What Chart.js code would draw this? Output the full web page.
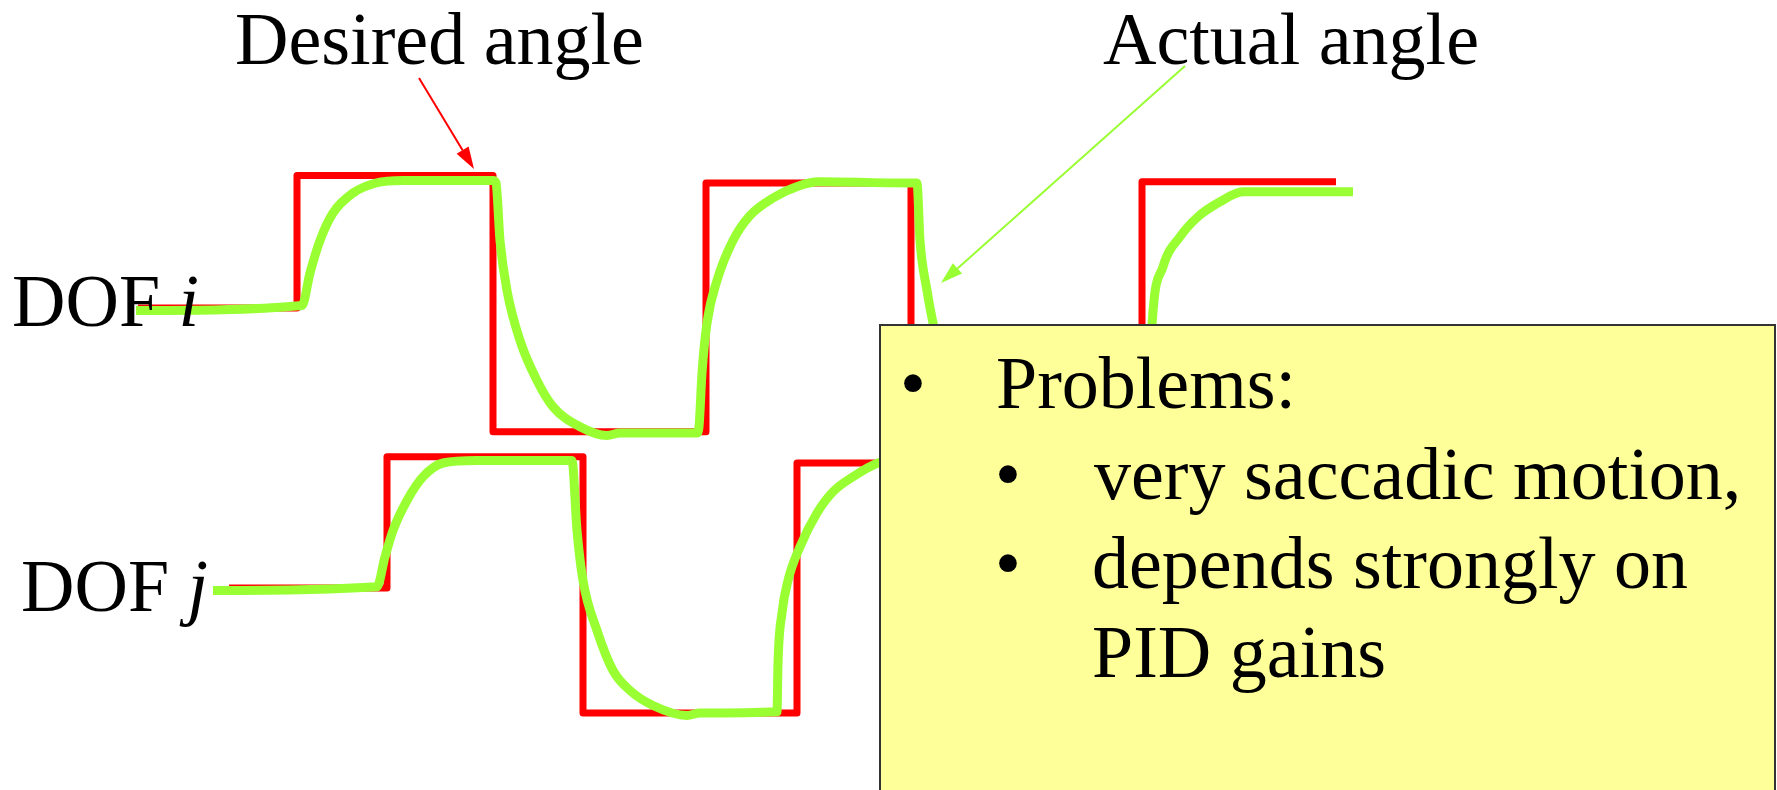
<!DOCTYPE html>
<html>
<head>
<meta charset="utf-8">
<title>Desired vs actual angle</title>
<script src="https://cdn.jsdelivr.net/npm/chart.js@4.4.1/dist/chart.umd.min.js"></script>
<style>
  html, body { margin: 0; padding: 0; background: #fff; }
  #wrap { position: relative; width: 1777px; height: 790px; overflow: hidden; }
  #chart { position: absolute; left: 0; top: 0; }
  .note { position: absolute; left: 879px; top: 324px; width: 893px; height: 520px;
          background: #ffff99; border: 2px solid #333; }
  .label { position: absolute; font-family: 'Liberation Serif', 'Times New Roman', serif;
           font-size: 74px; line-height: 74px; white-space: nowrap; color: #000; }
</style>
</head>
<body>
<div id="wrap">
  <canvas id="chart" width="1777" height="790"></canvas>
  <div class="note"></div>
</div>
<script>
// time (s) and angle (normalised)
const desiredI_t = [0, 1.59, 3.55, 5.68, 7.73, 10.04, 11.98];
const desiredI_v = [0, 1.06, -0.99, 1.0, -0.99, 1.01, 1.01];

const actualI_t = [-0.02, 1.64, 1.72, 1.82, 1.95, 2.15, 2.38, 2.65,
                   3.55, 3.58, 3.62, 3.69, 3.82, 3.99, 4.15, 4.42, 4.69, 4.82,
                   5.59, 5.61, 5.64, 5.69, 5.79, 5.95, 6.12, 6.35, 6.62, 6.8,
                   7.75, 7.79, 7.82, 7.89, 7.95, 8.07, 8.32, 8.62, 9.02,
                   10.1, 10.12, 10.14, 10.25, 10.42, 10.6, 10.82, 11.05, 12.15];
const actualI_v = [-0.02, 0.02, 0.28, 0.54, 0.76, 0.92, 1.0, 1.02,
                   1.02, 1.0, 0.54, 0.14, -0.26, -0.58, -0.79, -0.95, -1.02, -1.0,
                   -1.0, -0.95, -0.52, -0.12, 0.22, 0.54, 0.74, 0.88, 0.98, 1.01,
                   1.0, 1.0, 0.54, 0.14, -0.12, -0.5, -0.82, -0.96, -1.0,
                   -1.0, -0.58, -0.14, 0.33, 0.57, 0.73, 0.85, 0.93, 0.93];

const desiredJ_t = [0.91, 2.49, 4.45, 6.59, 8.3];
const desiredJ_v = [0, 1.05, -1.0, 1.0, 1.0];

const actualJ_t = [0.75, 2.39, 2.47, 2.55, 2.69, 2.85, 3.05, 3.39,
                   4.34, 4.39, 4.45, 4.59, 4.75, 4.92, 5.15, 5.49, 5.62,
                   6.39, 6.40, 6.44, 6.50, 6.62, 6.79, 6.95, 7.15, 7.40, 7.72, 8.3];
const actualJ_v = [-0.02, 0.01, 0.25, 0.46, 0.70, 0.89, 1.0, 1.02,
                   1.02, 0.46, 0.06, -0.34, -0.66, -0.82, -0.94, -1.02, -1.0,
                   -0.99, -0.6, -0.2, 0.06, 0.33, 0.6, 0.77, 0.89, 1.0, 1.04, 1.04];

// arrows, in DOF i units
const arrows = [
    {from: [2.81, 1.84], to: [3.36, 1.112], color: '#ff0000'},
    {from: [10.47, 1.936], to: [8.03, 0.2], color: '#99ff33'}
];

const RED = '#ff0000';
const GREEN = '#99ff33';

function toXY(ts, vs) {
    return ts.map((t, i) => ({x: t, y: vs[i]}));
}

const arrowPlugin = {
    id: 'arrows',
    afterDatasetsDraw(chart) {
        const ctx = chart.ctx;
        const xs = chart.scales.x;
        const ys = chart.scales.yi;
        arrows.forEach(a => {
            const x0 = xs.getPixelForValue(a.from[0]), y0 = ys.getPixelForValue(a.from[1]);
            const x1 = xs.getPixelForValue(a.to[0]), y1 = ys.getPixelForValue(a.to[1]);
            const ang = Math.atan2(y1 - y0, x1 - x0);
            const c = Math.cos(ang), s = Math.sin(ang);
            const len = 22, half = 7;
            ctx.save();
            ctx.strokeStyle = a.color;
            ctx.fillStyle = a.color;
            ctx.lineWidth = 2;
            ctx.beginPath();
            ctx.moveTo(x0, y0);
            ctx.lineTo(x1 - len * c, y1 - len * s);
            ctx.stroke();
            ctx.beginPath();
            ctx.moveTo(x1, y1);
            ctx.lineTo(x1 - len * c + half * s, y1 - len * s - half * c);
            ctx.lineTo(x1 - len * c - half * s, y1 - len * s + half * c);
            ctx.closePath();
            ctx.fill();
            ctx.restore();
        });
    }
};

function stepSet(data, axis) {
    return {data: data, yAxisID: axis, borderColor: RED, borderWidth: 7, stepped: true,
            borderJoinStyle: 'round', borderCapStyle: 'butt', pointRadius: 0, clip: false, order: 2};
}
function curveSet(data, axis) {
    return {data: data, yAxisID: axis, borderColor: GREEN, borderWidth: 9,
            cubicInterpolationMode: 'monotone', borderJoinStyle: 'round', borderCapStyle: 'butt',
            pointRadius: 0, clip: false, order: 1};
}

new Chart(document.getElementById('chart'), {
    type: 'line',
    data: {
        datasets: [
            stepSet(toXY(desiredI_t, desiredI_v), 'yi'),
            curveSet(toXY(actualI_t, actualI_v), 'yi'),
            stepSet(toXY(desiredJ_t, desiredJ_v), 'yj'),
            curveSet(toXY(actualJ_t, actualJ_v), 'yj')
        ]
    },
    options: {
        responsive: false,
        animation: false,
        events: [],
        layout: {padding: {left: 138, right: 39, top: 0, bottom: 0}},
        plugins: {legend: {display: false}, tooltip: {enabled: false}},
        scales: {
            x: {type: 'linear', display: false, min: 0, max: 16},
            yi: {type: 'linear', display: false, min: -3.856, max: 2.464},
            yj: {type: 'linear', display: false, min: -1.616, max: 4.704}
        }
    },
    plugins: [arrowPlugin]
});

// text: [html, left, baseline]
const labels = [
    ['Desired angle', 235, 64],
    ['Actual angle', 1103, 64],
    ['DOF <i>i</i>', 12, 326],
    ['DOF <i>j</i>', 21, 611],
    ['\u2022', 900, 408],
    ['Problems:', 996, 408],
    ['\u2022', 995, 499],
    ['very saccadic motion,', 1094, 499],
    ['\u2022', 995, 588],
    ['depends strongly on', 1092, 588],
    ['PID gains', 1092, 677]
];
const wrap = document.getElementById('wrap');
labels.forEach(([html, left, base]) => {
    const d = document.createElement('div');
    d.className = 'label';
    d.innerHTML = html;
    d.style.left = left + 'px';
    d.style.top = (base - 62) + 'px';
    wrap.appendChild(d);
});
</script>
</body>
</html>
